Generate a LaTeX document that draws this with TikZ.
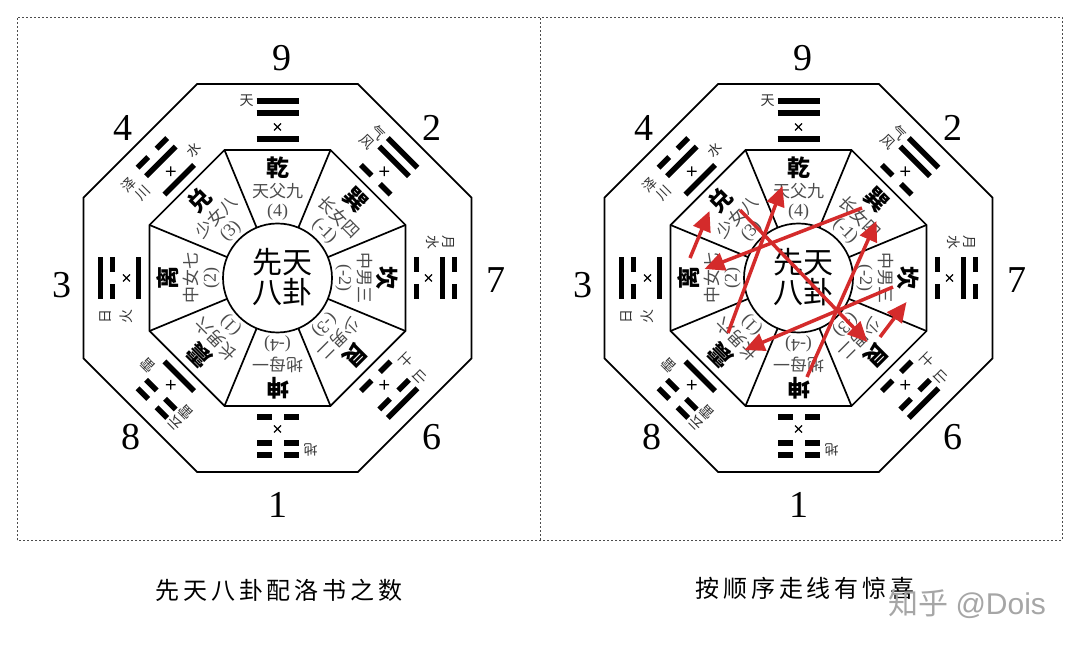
\documentclass[tikz,border=0pt]{standalone}
\usepackage{fontspec}
\setmainfont{Liberation Serif}
\newfontfamily\cjk{Noto Sans CJK SC}
\newfontfamily\cjksp[LetterSpace=16]{Noto Sans CJK SC}
\newfontfamily\wmfont{Liberation Sans}
\usetikzlibrary{arrows.meta}
\definecolor{arrowred}{HTML}{D42B2B}
\tikzset{
  octline/.style={line width=1.7pt, line join=miter},
  bar/.style={line width=5.5pt},
  xmark/.style={line width=1.1pt},
  bignum/.style={font=\fontsize{38}{38}\selectfont, inner sep=0pt},
  mainch/.style={font=\cjk\bfseries\fontsize{23}{23}\selectfont, inner sep=0pt, transform shape},
  subch/.style={font=\cjk\fontsize{17}{17}\selectfont, text=black!70, inner sep=0pt, transform shape},
  numch/.style={font=\fontsize{18}{18}\selectfont, text=black!70, inner sep=0pt, transform shape},
  lblch/.style={font=\cjk\fontsize{14}{14}\selectfont, text=black!80, inner sep=0pt, transform shape},
  centerch/.style={font=\cjk\fontsize{30}{30}\selectfont, inner sep=0pt},
  captiontext/.style={font=\cjksp\fontsize{24}{24}\selectfont, inner sep=0pt},
  redarrow/.style={draw=arrowred, line width=3.5pt, -{Triangle[length=20pt,width=18pt]}},
  framebox/.style={draw=black!70, line width=0.8pt, dash pattern=on 2pt off 2pt},
}
\newcommand\yaoS[1]{\draw[bar] (-21,#1) -- (21,#1);}
\newcommand\yaoB[1]{\draw[bar] (-21,#1) -- (-6,#1) (6,#1) -- (21,#1);}
\newcommand\drawbagua[1]{%
 \begin{scope}[shift={(#1c)}]
  % outer and middle octagons
  \draw[octline] (22.5:210) -- (67.5:210) -- (112.5:210) -- (157.5:210) -- (202.5:210) -- (247.5:210) -- (292.5:210) -- (337.5:210) -- cycle;
  \draw[octline] (22.5:138.5) -- (67.5:138.5) -- (112.5:138.5) -- (157.5:138.5) -- (202.5:138.5) -- (247.5:138.5) -- (292.5:138.5) -- (337.5:138.5) -- cycle;
  \draw[octline] (0,0) circle (54.5);
  \foreach \a in {22.5,67.5,...,337.5}{\draw[octline] (\a:54.5) -- (\a:138.5);}
  \node[centerch] (#1-xt) at (4.5,16) {先天};
  \node[centerch] (#1-bg) at (4.5,-14) {八卦};
  % sectors
  \foreach \p/\mc/\sc/\nc [count=\i] in {0/乾/天父九/{(4)}, -45/巽/长女四/{(-1)}, -90/坎/中男三/{(-2)}, -135/艮/少男二/{(-3)}, 180/坤/地母一/{(-4)}, 135/震/长男六/{(1)}, 90/离/中女七/{(2)}, 45/兑/少女八/{(3)}}{
   \begin{scope}[rotate=\p]
    \node[mainch] (#1-m\i) at (0,110) {\mc};
    \node[subch] (#1-s\i) at (0,87) {\sc};
    \node[numch] (#1-n\i) at (0,66) {\nc};
   \end{scope}}
  % trigrams
  \foreach \p/\ya/\yb/\yc in {0/S/S/S, -45/S/S/B, -90/B/S/B, -135/S/B/B, 180/B/B/B, 135/B/B/S, 90/S/B/S, 45/B/S/S}{
   \begin{scope}[rotate=\p]
    \csname yao\ya\endcsname{177}
    \csname yao\yb\endcsname{165}
    \csname yao\yc\endcsname{139}
    \draw[xmark] (-3.5,147.5) -- (3.5,154.5) (-3.5,154.5) -- (3.5,147.5);
   \end{scope}}
  % trigram labels
  \begin{scope}[rotate=0]\node[lblch] (#1-l1) at (-31,177) {天};\end{scope}
  \begin{scope}[rotate=-45]\node[lblch] (#1-l2a) at (-32,174) {气};\node[lblch] (#1-l2b) at (-33,159) {风};\end{scope}
  \begin{scope}[rotate=-90]\node[lblch] (#1-l3a) at (-35,171) {月};\node[lblch] (#1-l3b) at (-35,155) {水};\end{scope}
  \begin{scope}[rotate=-135]\node[lblch] (#1-l4a) at (-31,171) {山};\node[lblch] (#1-l4b) at (-33,150) {土};\end{scope}
  \begin{scope}[rotate=180]\node[lblch] (#1-l5) at (-33,172) {地};\end{scope}
  \begin{scope}[rotate=135]\node[lblch] (#1-l6a) at (-30,175) {云};\node[lblch] (#1-l6b) at (-30,159) {雷};\node[lblch] (#1-l6c) at (30,153) {雷};\end{scope}
  \begin{scope}[rotate=90]\node[lblch] (#1-l7a) at (-39,172) {日};\node[lblch] (#1-l7b) at (-39,151) {火};\end{scope}
  \begin{scope}[rotate=45]\node[lblch] (#1-l8a) at (-40,171) {泽};\node[lblch] (#1-l8b) at (-35,155) {川};\node[lblch] (#1-l8c) at (31,150) {水};\end{scope}
  % luoshu numbers
  \node[bignum] (#1-9) at (4.5,220) {9};
  \node[bignum] (#1-2) at (154.5,150) {2};
  \node[bignum] (#1-7) at (218.5,-2) {7};
  \node[bignum] (#1-6) at (154.5,-159) {6};
  \node[bignum] (#1-1) at (0.5,-227) {1};
  \node[bignum] (#1-8) at (-146.5,-159) {8};
  \node[bignum] (#1-3) at (-215.5,-7) {3};
  \node[bignum] (#1-4) at (-154.5,150) {4};
 \end{scope}}
\begin{document}
\begin{tikzpicture}[x=1pt,y=1pt]
\useasboundingbox (0,0) rectangle (1080,648);
\fill[white] (0,0) rectangle (1080,648);
% frames
\draw[framebox] (17,108) rectangle (1062,631);
\draw[framebox] (540,108) -- (540,631);
\coordinate (Lc) at (277.5,370);
\coordinate (Rc) at (798.5,370);
\drawbagua{L}
\drawbagua{R}
% captions
\node[captiontext] (capL) at (279,58) {先天八卦配洛书之数};
\node[captiontext] (capR) at (805,60) {按顺序走线有惊喜};
\node[font=\fontsize{30}{30}\selectfont, text=black!35, inner sep=0pt] (wm) at (967,44) {{\cjk 知乎} {\wmfont @Dois}};
% red arrows
\coordinate (a1s) at ([shift={(8.5,-99)}]Rc);
\coordinate (a1e) at ([shift={(78,57)}]Rc);
\coordinate (a2s) at ([shift={(63.5,70)}]Rc);
\coordinate (a2e) at ([shift={(-94,9)}]Rc);
\coordinate (a3s) at ([shift={(-108.5,20)}]Rc);
\coordinate (a3e) at ([shift={(-89,67)}]Rc);
\coordinate (a4s) at ([shift={(-58.5,68)}]Rc);
\coordinate (a4e) at ([shift={(69,-64)}]Rc);
\coordinate (a5s) at ([shift={(81.5,-59)}]Rc);
\coordinate (a5e) at ([shift={(108,-24)}]Rc);
\coordinate (a6s) at ([shift={(94.5,-9)}]Rc);
\coordinate (a6e) at ([shift={(-54,-72)}]Rc);
\coordinate (a7s) at ([shift={(-70.5,-55)}]Rc);
\coordinate (a7e) at ([shift={(-16,92)}]Rc);
\draw[redarrow] (a1s) -- (a1e);
\draw[redarrow] (a2s) -- (a2e);
\draw[redarrow] (a3s) -- (a3e);
\draw[redarrow] (a4s) -- (a4e);
\draw[redarrow] (a5s) -- (a5e);
\draw[redarrow] (a6s) -- (a6e);
\draw[redarrow] (a7s) -- (a7e);
\end{tikzpicture}
\end{document}
